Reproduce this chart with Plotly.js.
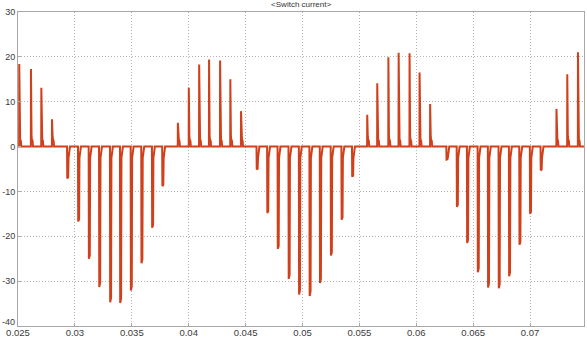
<!DOCTYPE html>
<html>
<head>
<meta charset="utf-8">
<script src="https://cdn.plot.ly/plotly-3.0.1.min.js"></script>
<style>
  html, body { margin: 0; padding: 0; background: #ffffff; }
  #chart { width: 587px; height: 338px; }
</style>
</head>
<body>
<div id="chart"></div>
<script>
const pulseTime = [
  0.02511, 0.02614, 0.02705, 0.02799,
  0.02933, 0.03029, 0.03123, 0.03214, 0.03310, 0.03398, 0.03492, 0.03585, 0.03679, 0.03769,
  0.03905, 0.04001, 0.04092, 0.04179, 0.04276, 0.04366, 0.04460,
  0.04598, 0.04691, 0.04783, 0.04879, 0.04970, 0.05063, 0.05154, 0.05250, 0.05344, 0.05437,
  0.05569, 0.05657, 0.05755, 0.05845, 0.05941, 0.06029, 0.06122,
  0.06266, 0.06357, 0.06447, 0.06541, 0.06631, 0.06725, 0.06816, 0.06907, 0.07000, 0.07094,
  0.07232, 0.07327, 0.07421
];
const pulsePeak = [
  18.4, 17.3, 13.1, 6.1,
  -7.1, -16.7, -25.0, -31.3, -34.7, -34.9, -32.1, -26.0, -18.1, -8.8,
  5.3, 13.1, 18.3, 19.4, 19.2, 15.0, 7.9,
  -5.1, -14.8, -22.8, -29.5, -33.0, -33.3, -30.4, -24.3, -16.3, -6.7,
  7.1, 14.1, 19.9, 20.9, 20.8, 16.5, 9.5,
  -2.9, -13.4, -21.5, -28.0, -31.4, -31.6, -28.9, -21.9, -15.0, -5.3,
  8.4, 16.1, 21.0
];
const xTickVals = [0.025, 0.03, 0.035, 0.04, 0.045, 0.05, 0.055, 0.06, 0.065, 0.07];
const xTickText = ['0.025', '0.03', '0.035', '0.04', '0.045', '0.05', '0.055', '0.06', '0.065', '0.07'];
const yTickVals = [-40, -30, -20, -10, 0, 10, 20, 30];
const yTickText = ['-40', '-30', '-20', '-10', '0', '10', '20', '30'];
const titleText = '<Switch current>';

// Build the trace: each switching event is a sharp spike with a short recovery tail
const xRange = [0.025, 0.07474];
const yRange = [-40, 30];
const xs = [xRange[0]], ys = [0];
for (let i = 0; i < pulseTime.length; i++) {
  const t = pulseTime[i], p = pulsePeak[i];
  if (p > 0) {
    xs.push(t - 0.00001, t, t + 0.00005, t + 0.00008, t + 0.00014, t + 0.00018);
    ys.push(0, p, 2.2, 1.6, 1.3, 0);
  } else {
    xs.push(t - 0.00002, t, t + 0.00008, t + 0.00011, t + 0.00024);
    ys.push(0, p, p * 0.97, -2.5, 0);
  }
}
xs.push(xRange[1]); ys.push(0);

const trace = {
  x: xs, y: ys, type: 'scatter', mode: 'lines',
  line: { color: '#d0401b', width: 2 },
  hoverinfo: 'skip'
};

const tickFont = { family: 'Liberation Sans, Arial, sans-serif', size: 9, color: '#3a3a3a' };

const axisCommon = {
  showgrid: true, gridcolor: '#b4b4b4', griddash: '1px,2px', gridwidth: 1,
  showline: true, linecolor: '#a8a8a8', linewidth: 1, mirror: true,
  zeroline: false, ticks: 'inside', ticklen: 3, tickcolor: '#a8a8a8'
};

// The lowest y label sits in the corner next to the first x label; it is placed
// as an annotation nudged up slightly so the two labels do not collide.
const yTextShown = yTickText.map((s, i) => i === 0 ? '' : s);

const layout = {
  width: 587, height: 338,
  margin: { l: 18, r: 3, t: 12, b: 12, pad: 0 },
  paper_bgcolor: '#ffffff', plot_bgcolor: '#ffffff',
  showlegend: false,
  title: {
    text: titleText.replace('<', '&lt;').replace('>', '&gt;'),
    font: { family: 'Liberation Sans, Arial, sans-serif', size: 8, color: '#333333' },
    x: 0.513, xanchor: 'center', y: 0.988, yanchor: 'middle', yref: 'container'
  },
  xaxis: Object.assign({}, axisCommon, {
    range: xRange, tickvals: xTickVals, ticktext: xTickText,
    ticklabelstandoff: -2,
    tickfont: Object.assign({}, tickFont, { size: 9.5 })
  }),
  yaxis: Object.assign({}, axisCommon, {
    range: yRange, tickvals: yTickVals, ticktext: yTextShown,
    tickfont: tickFont
  }),
  annotations: [{
    text: yTickText[0], xref: 'paper', x: 0, yref: 'y', y: yTickVals[0],
    xanchor: 'right', yanchor: 'middle', xshift: -2, yshift: 4,
    showarrow: false, borderpad: 0, font: tickFont
  }]
};

Plotly.newPlot('chart', [trace], layout, { displayModeBar: false, staticPlot: true });
</script>
</body>
</html>
